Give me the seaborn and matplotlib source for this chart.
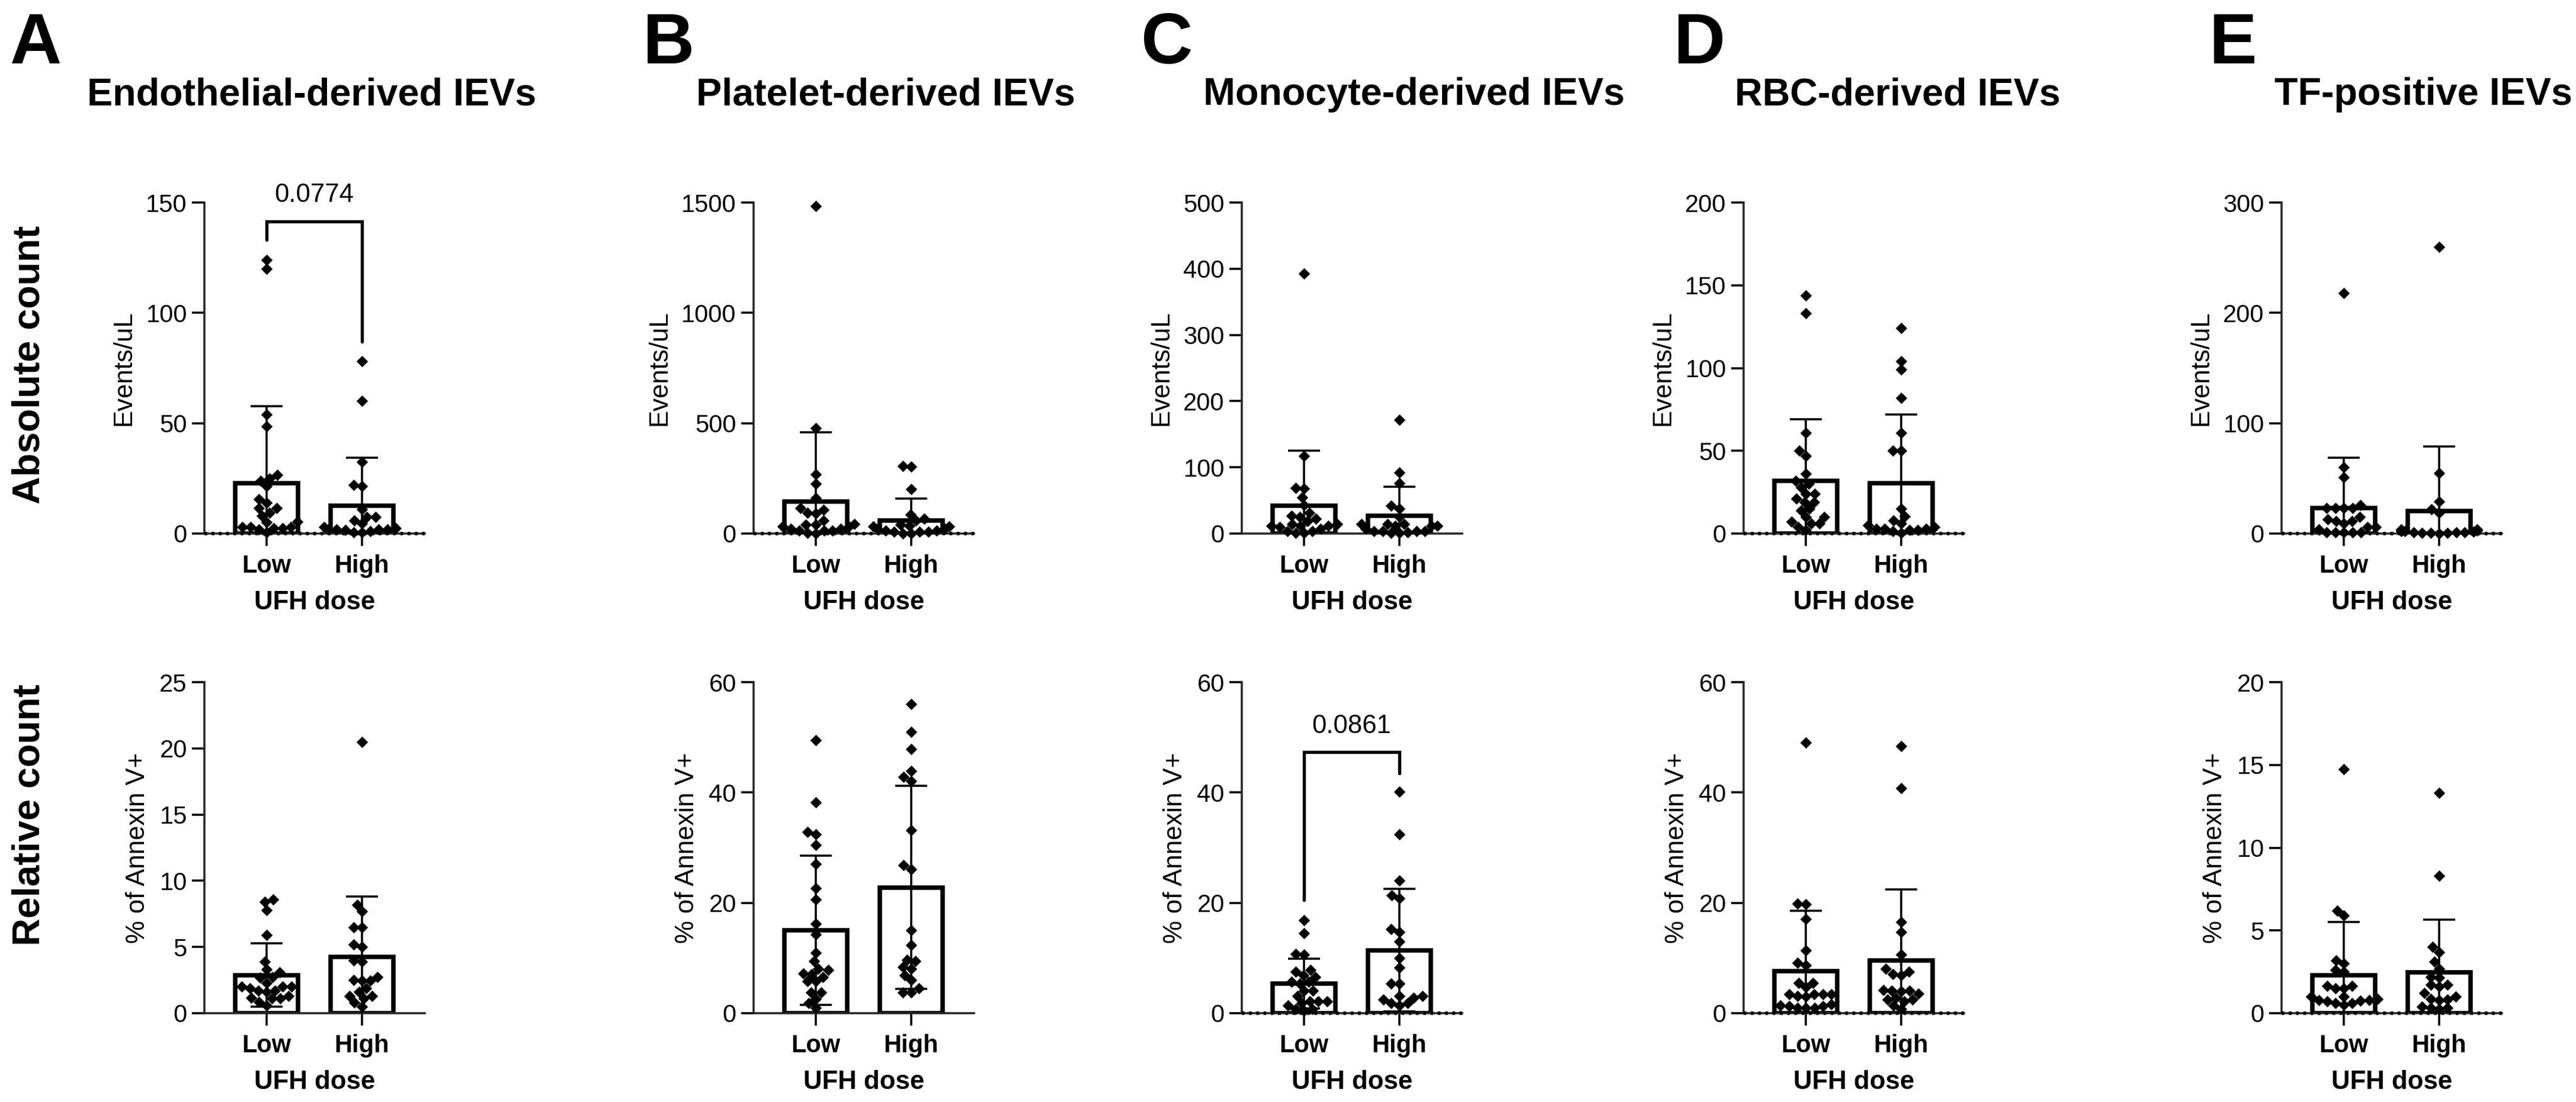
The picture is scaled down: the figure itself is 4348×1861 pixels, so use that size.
import matplotlib
matplotlib.use("Agg")
import matplotlib.pyplot as plt
import pandas as pd
import seaborn as sns

W, H, DPI = 4348, 1861, 300

dose_levels = ["Low", "High"]
panel_letters = ["A", "B", "C", "D", "E"]
panel_titles = ["Endothelial-derived IEVs", "Platelet-derived IEVs", "Monocyte-derived IEVs",
                "RBC-derived IEVs", "TF-positive IEVs"]
row_titles = ["Absolute count", "Relative count"]
row_ylabels = ["Events/uL", "% of Annexin V+"]

# ---- absolute counts (Events/uL) ----
endo_abs_low = [120, 124, 54, 48.5, 25, 26.5, 24, 21.5, 15.5, 14, 11.5, 11.5, 9.5, 8, 5.5, 5, 3, 3, 3, 2.5, 2.5, 2, 0.5]
endo_abs_high = [78, 60, 32.5, 22, 21.5, 11, 7.5, 7.5, 6, 4.5, 3, 2.5, 2, 2, 2, 2, 1.5, 1, 0.5, 0.5]
plt_abs_low = [1484, 478, 269, 225, 160, 115, 108, 94, 90, 58, 43, 40, 40, 31, 31, 22, 22, 13, 13, 13, 4, 0]
plt_abs_high = [306, 304, 202, 85, 67, 58, 40, 36, 31, 31, 22, 22, 13, 13, 7, 7, 7, 0, 0]
mono_abs_low = [393, 117, 69, 68, 55, 43, 31, 27, 25, 22, 19, 14, 14, 12, 12, 12, 10, 7, 4, 4, 1, 1]
mono_abs_high = [172, 92, 76, 42, 38, 25, 14, 14, 14, 12, 12, 12, 7, 4, 4, 4, 4, 2, 1, 1]
rbc_abs_low = [144, 133, 61, 50, 47, 36, 32, 30, 28, 24, 24, 21, 19, 19, 15, 14, 10, 10, 7, 6, 6, 4, 2]
rbc_abs_high = [124, 104, 99, 82, 61, 50, 50, 15, 10.5, 8, 6, 5, 4, 3, 3, 3, 2, 2, 1.5, 0.5]
tf_abs_low = [218, 60, 51, 26, 23, 23, 23, 23, 15, 13, 11.5, 11.5, 9, 6, 6, 3.5, 1, 1, 1, 1, 1]
tf_abs_high = [260, 55, 29, 22, 19, 4, 4, 3, 3, 2.5, 2, 2, 1.5, 1, 1, 1, 0.5, 0.5, 0.5, 0]

# bar heights (mean) and SD as shown
abs_means = [[22.9, 12.6], [144, 58], [42, 26.4], [31.7, 30.5], [23, 20.6]]
abs_sds = [[34.8, 21.7], [316, 99], [83.6, 43.9], [37.3, 41.5], [45.5, 58.4]]

# ---- relative counts (% of Annexin V+) ----
endo_rel_low = [8.6, 8.4, 7.8, 5.9, 3.9, 3.3, 3.1, 2.75, 2.7, 2.3, 2.0, 2.0, 2.0, 1.9, 1.7, 1.7, 1.6, 1.3, 1.15, 1.1, 1.1, 0.85, 0.6]
endo_rel_high = [20.5, 8.2, 7.7, 6.5, 6.5, 5.2, 5.0, 4.0, 3.9, 2.75, 2.5, 2.45, 2.45, 1.9, 1.6, 1.3, 1.3, 1.1, 0.8, 0.5]
plt_rel_low = [49.5, 38.2, 32.8, 32.4, 30.5, 27.1, 22.7, 20.6, 16.2, 14.3, 10.9, 9.4, 8.1, 7.8, 7.2, 7.1, 6.6, 5.8, 5.8, 3.8, 3.8, 2.6, 1.8, 1.0]
plt_rel_high = [56, 51, 47.9, 43.9, 42.8, 42.1, 33.2, 26.8, 26.1, 15, 12.3, 9.7, 9.4, 8.4, 8.1, 6.9, 6.0, 4.5, 3.8, 3.8]
mono_rel_low = [16.9, 14.5, 10.7, 10.6, 7.8, 7.5, 6.9, 6.6, 5.7, 5.7, 5.4, 4.1, 4.1, 3.1, 2.2, 2.2, 2.2, 1.8, 1.4, 0.7, 0.7, 0.4]
mono_rel_high = [40.1, 32.4, 24.0, 21.4, 20.8, 15.2, 14.7, 13.0, 10.0, 8.3, 5.4, 5.4, 3.1, 3.1, 2.8, 2.5, 1.8, 1.8, 1.4]
rbc_rel_low = [49.1, 19.9, 19.7, 17.1, 11.4, 9.1, 8.7, 5.5, 5.5, 4.7, 3.4, 3.4, 3.4, 3.4, 3.1, 3.0, 1.6, 1.4, 1.3, 1.3, 1.0, 1.0, 1.0]
rbc_rel_high = [48.4, 40.8, 16.5, 14.7, 10.6, 8.0, 7.5, 7.1, 6.9, 4.2, 4.1, 4.1, 4.0, 3.5, 2.8, 2.5, 2.5, 2.2, 1.4, 0.8]
tf_rel_low = [14.75, 6.2, 5.9, 3.2, 3.0, 2.6, 2.5, 1.65, 1.65, 1.5, 1.5, 1.0, 1.0, 0.85, 0.8, 0.8, 0.75, 0.7, 0.6, 0.6, 0.5]
tf_rel_high = [13.3, 8.3, 4.0, 3.7, 3.1, 2.7, 2.2, 2.15, 1.7, 1.7, 1.6, 1.2, 1.0, 0.85, 0.83, 0.8, 0.4, 0.33, 0.33, 0.25]

rel_means = [[2.88, 4.23], [15.0, 22.8], [5.4, 11.4], [7.6, 9.56], [2.3, 2.46]]
rel_sds = [[2.41, 4.59], [13.5, 18.4], [4.5, 11.1], [11.0, 12.9], [3.2, 3.2]]

# y axis ranges
abs_ymax = [150, 1500, 500, 200, 300]
abs_step = [50, 500, 100, 50, 100]
rel_ymax = [25, 60, 60, 60, 20]
rel_step = [5, 20, 20, 20, 5]

# dotted line along y = 0 in some panels
abs_zero_dots = [True, True, False, True, True]
rel_zero_dots = [False, False, True, True, True]

# p-value brackets: (row, col, low end, top, high end, label)
brackets = [
    (0, 0, 133, 141.5, 87, "0.0774"),
    (1, 2, 20.5, 47.3, 43.5, "0.0861"),
]

abs_points = [(endo_abs_low, endo_abs_high), (plt_abs_low, plt_abs_high), (mono_abs_low, mono_abs_high),
              (rbc_abs_low, rbc_abs_high), (tf_abs_low, tf_abs_high)]
rel_points = [(endo_rel_low, endo_rel_high), (plt_rel_low, plt_rel_high), (mono_rel_low, mono_rel_high),
              (rbc_rel_low, rbc_rel_high), (tf_rel_low, tf_rel_high)]

# layout in pixels
col_left = [345, 1272, 2096, 2943, 3851]
ax_w = 372
row_top = [342, 1152]
ax_h = 559
title_x = [526, 1495, 2387, 3203, 4090]
letter_x = [17, 1085, 1926, 2825, 3729]

sns.set_style("ticks")
plt.rcParams["font.family"] = ["Liberation Sans", "DejaVu Sans"]
plt.rcParams["text.color"] = "black"
plt.rcParams["axes.labelcolor"] = "black"
plt.rcParams["xtick.color"] = "black"
plt.rcParams["ytick.color"] = "black"


def px_rect(left, top, w, h):
    return [left / W, 1 - (top + h) / H, w / W, h / H]


def draw_panel(ax, low, high, means, sds, ymax, step, ylabel, zero_dots):
    df = pd.DataFrame({"dose": ["Low"] * len(low) + ["High"] * len(high),
                       "value": list(low) + list(high)})
    sns.barplot(x=dose_levels, y=means, order=dose_levels, ax=ax, color="white",
                edgecolor="black", linewidth=1.8, width=0.66, saturation=1,
                errorbar=None, zorder=1)
    sns.swarmplot(data=df, x="dose", y="value", order=dose_levels, ax=ax, color="black",
                  marker="D", size=3.3, linewidth=0, zorder=3, warn_thresh=1)
    for coll in ax.collections:
        coll.set_clip_on(False)
    ax.errorbar([0, 1], means, yerr=sds, fmt="none", ecolor="black", elinewidth=0.85,
                capsize=6.5, capthick=0.85, zorder=4)
    if zero_dots:
        ax.axhline(0, color="black", lw=1.4, ls=(0, (0.8, 1.3)), zorder=5, clip_on=False)

    ax.set_xlim(-0.655, 1.66)
    ax.set_ylim(0, ymax)
    ax.set_yticks(range(0, ymax + 1, step))
    sns.despine(ax=ax)
    for side in ["left", "bottom"]:
        ax.spines[side].set_linewidth(0.85)
    ax.tick_params(axis="y", length=5, width=0.85, pad=2, labelsize=10)
    ax.tick_params(axis="x", length=5, width=0.85, pad=3.5, labelsize=10)
    for lbl in ax.get_xticklabels():
        lbl.set_fontweight("bold")
    ax.set_xlabel("UFH dose", fontsize=10.5, fontweight="bold", labelpad=5)
    ax.set_ylabel(ylabel, fontsize=10.5, labelpad=4)


fig = plt.figure(figsize=(W / DPI, H / DPI), dpi=DPI)

axes = {}
for row in range(2):
    for col in range(5):
        ax = fig.add_axes(px_rect(col_left[col], row_top[row], ax_w, ax_h))
        if row == 0:
            low, high = abs_points[col]
            draw_panel(ax, low, high, abs_means[col], abs_sds[col], abs_ymax[col], abs_step[col],
                       row_ylabels[0], abs_zero_dots[col])
        else:
            low, high = rel_points[col]
            draw_panel(ax, low, high, rel_means[col], rel_sds[col], rel_ymax[col], rel_step[col],
                       row_ylabels[1], rel_zero_dots[col])
        axes[(row, col)] = ax

for row, col, y_low, y_top, y_high, label in brackets:
    ax = axes[(row, col)]
    ax.plot([0, 0, 1, 1], [y_low, y_top, y_top, y_high], color="black", lw=1.3,
            clip_on=False, solid_joinstyle="miter", zorder=6)
    ymax = ax.get_ylim()[1]
    ax.text(0.5, y_top + ymax * 0.058, label, ha="center", va="baseline", fontsize=10.5,
            clip_on=False)

for col in range(5):
    fig.text(letter_x[col] / W, 1 - 107 / H, panel_letters[col], ha="left", va="baseline",
             fontsize=29, fontweight="bold")
    fig.text(title_x[col] / W, 1 - 177 / H, panel_titles[col], ha="center", va="baseline",
             fontsize=15.5, fontweight="bold")

fig.text(50 / W, 1 - 616 / H, row_titles[0], rotation=90, ha="center", va="center",
         fontsize=15.5, fontweight="bold")
fig.text(50 / W, 1 - 1376 / H, row_titles[1], rotation=90, ha="center", va="center",
         fontsize=15.5, fontweight="bold")

fig.savefig("out.png", dpi=DPI)
plt.close(fig)
